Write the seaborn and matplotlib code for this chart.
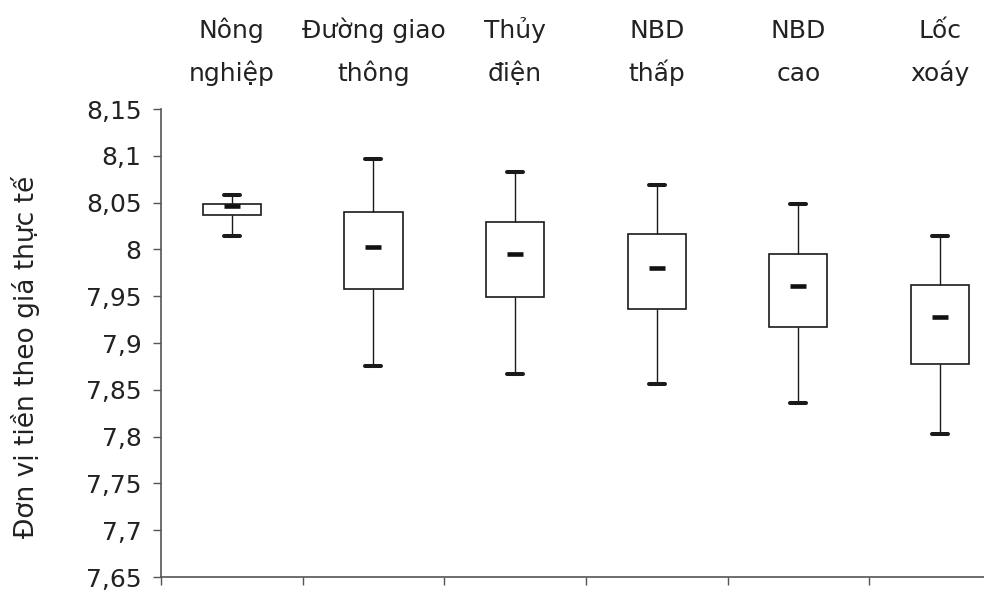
import matplotlib
matplotlib.use("Agg")
import matplotlib.pyplot as plt
import seaborn as sns
import pandas as pd
from matplotlib.ticker import FuncFormatter
from matplotlib.transforms import blended_transform_factory

# ---- data ----
categories = ["Nông\nnghiệp", "Đường giao\nthông", "Thủy\nđiện", "NBD\nthấp", "NBD\ncao", "Lốc\nxoáy"]
whisker_low = [8.014, 7.875, 7.867, 7.856, 7.836, 7.803]
quartile_1 = [8.037, 7.958, 7.949, 7.936, 7.917, 7.878]
median_val = [8.046, 8.003, 7.995, 7.980, 7.961, 7.928]
quartile_3 = [8.049, 8.040, 8.029, 8.016, 7.995, 7.962]
whisker_high = [8.058, 8.097, 8.083, 8.069, 8.049, 8.014]
y_ticks = [7.65, 7.7, 7.75, 7.8, 7.85, 7.9, 7.95, 8.0, 8.05, 8.1, 8.15]
y_label = "Đơn vị tiền theo giá thực tế"

rows = []
for c, lo, a, m, b, hi in zip(categories, whisker_low, quartile_1, median_val, quartile_3, whisker_high):
    for v in (lo, a, m, b, hi):
        rows.append({"cat": c, "val": v})
df = pd.DataFrame(rows)

sns.set_style("ticks")
plt.rcParams["font.family"] = ["DejaVu Sans"]
FS = 18
TXT = "#222222"

W, H = 984, 596
fig = plt.figure(figsize=(W / 100, H / 100), dpi=100)
ax = fig.add_axes([161 / W, (H - 577) / H, 1 - 161 / W, 468 / H])

sns.boxplot(data=df, x="cat", y="val", order=categories, whis=(0, 100), width=0.41,
            color="white", linecolor="#1a1a1a", linewidth=1.2,
            capwidths=0.113, capprops=dict(linewidth=2.9),
            medianprops=dict(linewidth=0), whiskerprops=dict(linewidth=1.0), ax=ax)
sns.pointplot(data=df, x="cat", y="val", order=categories, estimator="median",
              errorbar=None, linestyle="none", marker="_", markersize=11.5,
              markeredgewidth=3.3, color="#111111", ax=ax)

ax.set_yticks(y_ticks)
ax.set_ylim(7.65, 8.15)
ax.yaxis.set_major_formatter(FuncFormatter(
    lambda v, p: (f"{v:.2f}".rstrip("0").rstrip(".")).replace(".", ",")))
ax.set_xticks([i - 0.5 for i in range(len(categories) + 1)])
ax.set_xticklabels([])
ax.set_xlim(-0.5, 5.31)
ax.set_xlabel("")
ax.set_ylabel(y_label, fontsize=19, color=TXT)
ax.yaxis.set_label_coords(-0.147, 0.47)

for s in ("top", "right"):
    ax.spines[s].set_visible(False)
for s in ("left", "bottom"):
    ax.spines[s].set_color("#555555")
    ax.spines[s].set_linewidth(1.2)
ax.tick_params(axis="both", direction="out", length=6, width=1, color="#555555")
ax.tick_params(axis="y", labelsize=FS, labelcolor=TXT, pad=8)

tr = blended_transform_factory(ax.transData, fig.transFigure)
for i, c in enumerate(categories):
    l1, l2 = c.split("\n")
    ax.text(i, 1 - 38 / H, l1, transform=tr, ha="center", va="baseline", fontsize=FS, color=TXT)
    ax.text(i, 1 - 81 / H, l2, transform=tr, ha="center", va="baseline", fontsize=FS, color=TXT)

fig.savefig("out.png", dpi=100, facecolor="white")
